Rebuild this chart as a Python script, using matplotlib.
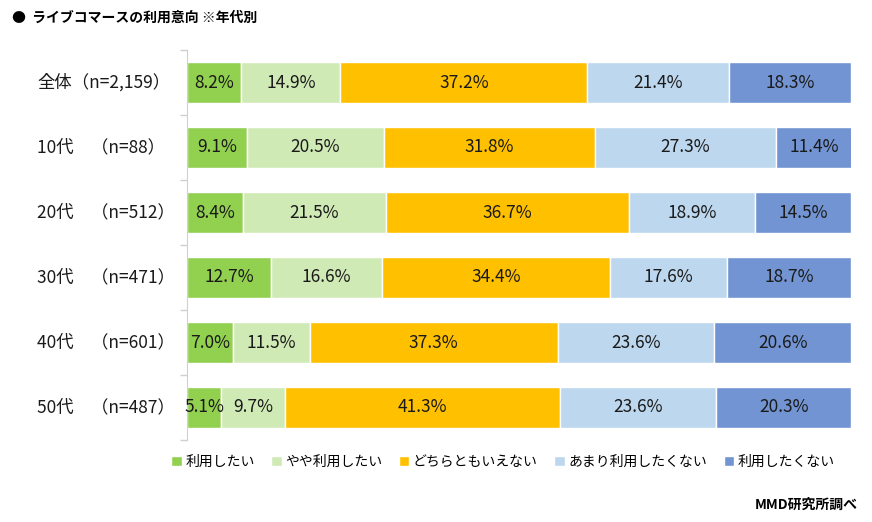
import numpy as np
import matplotlib.pyplot as plt

plt.rcParams['font.family'] = ['Noto Sans CJK JP', 'DejaVu Sans']

groups = ["全体（n=2,159）", "10代　（n=88）", "20代　（n=512）",
          "30代　（n=471）", "40代　（n=601）", "50代　（n=487）"]
answers = ["利用したい", "やや利用したい", "どちらともいえない", "あまり利用したくない", "利用したくない"]
want = [8.2, 9.1, 8.4, 12.7, 7.0, 5.1]
somewhat = [14.9, 20.5, 21.5, 16.6, 11.5, 9.7]
neutral = [37.2, 31.8, 36.7, 34.4, 37.3, 41.3]
not_much = [21.4, 27.3, 18.9, 17.6, 23.6, 23.6]
no_want = [18.3, 11.4, 14.5, 18.7, 20.6, 20.3]
colors = ["#92D050", "#D0EAB6", "#FFC000", "#BDD7EE", "#7294D2"]

series = [want, somewhat, neutral, not_much, no_want]

fig = plt.figure(figsize=(8.72, 5.22), dpi=100)
ax = fig.add_axes([187/872, 1-440/522, (851-187)/872, 390/522])

y = np.arange(len(groups))
left = np.zeros(len(groups))
for vals, col, name in zip(series, colors, answers):
    vals = np.array(vals)
    ax.barh(y, vals, left=left, height=0.62, color=col, edgecolor='white',
            linewidth=1, label=name)
    for yi, l, v in zip(y, left, vals):
        ax.text(l + v/2, yi, f"{v:.1f}%", ha='center', va='center',
                fontsize=12.5, color='#1a1a1a')
    left += vals

ax.set_xlim(0, 100)
ax.set_ylim(len(groups) - 0.5, -0.5)
ax.set_xticks([])
ax.set_yticks(np.arange(-0.5, len(groups)))
ax.set_yticklabels([])
ax.tick_params(axis='y', length=5, color='#d0d0d0', width=1)
for s in ['top', 'right', 'bottom']:
    ax.spines[s].set_visible(False)
ax.spines['left'].set_color('#d0d0d0')

# group labels, left aligned at fixed pixel x
for yi, g in zip(y, groups):
    ypix = 50 + 65 * (yi + 0.5)
    fig.text(37/872, 1 - ypix/522, g, ha='left', va='center', fontsize=12.5,
             color='#1a1a1a')

fig.text(12/872, 1 - 18/522, "●  ライブコマースの利用意向 ※年代別", ha='left',
         va='center', fontsize=10, fontweight='bold', color='black')
fig.text(858/872, 1 - 505/522, "MMD研究所調べ", ha='right', va='center',
         fontsize=10, fontweight='bold', color='black')

fig.legend(loc='center', bbox_to_anchor=(503/872, 1 - 462/522), ncol=5,
           frameon=False, fontsize=10, handlelength=0.75, handleheight=0.75,
           handletextpad=0.25, columnspacing=1.2)

fig.savefig("out.png", dpi=100)
